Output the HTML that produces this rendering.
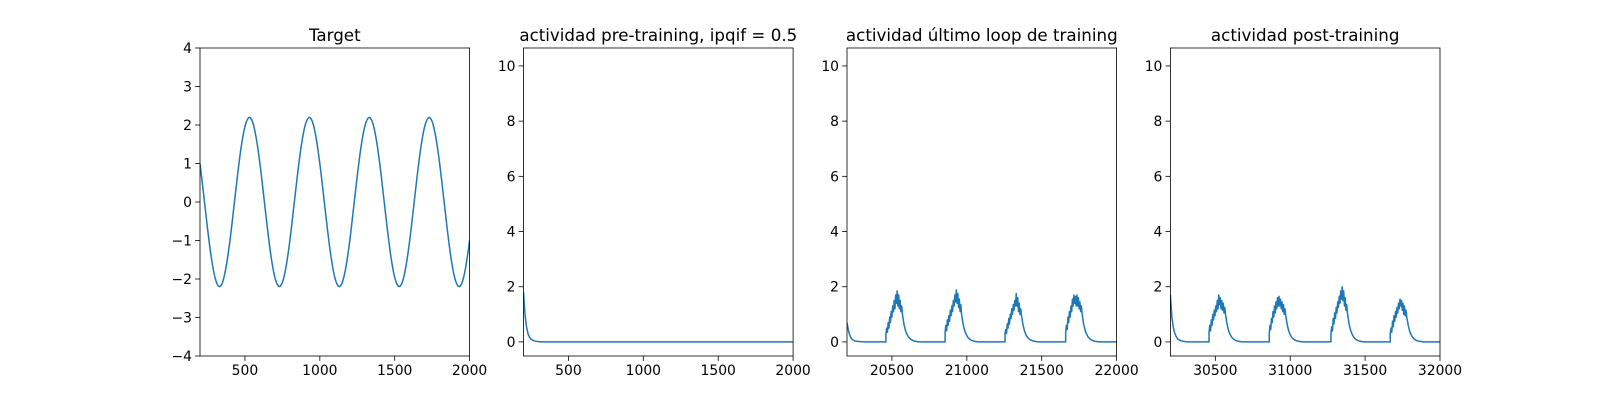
<!DOCTYPE html>
<html><head><meta charset="utf-8"><style>
html,body{margin:0;padding:0;background:#fff;}
svg{display:block;font-family:"DejaVu Sans","Liberation Sans",sans-serif;}
</style></head><body>
<svg id="fig" width="1600" height="400" viewBox="0 0 1600 400" xmlns="http://www.w3.org/2000/svg"></svg>
<script>
// ---- data ----
const targetX0 = 200, targetStep = 25;
const targetValues = [1.00,0.17,-0.68,-1.43,-1.96,-2.19,-2.09,-1.67,-1.00,-0.17,0.68,1.43,1.96,2.19,2.09,1.67,
1.00,0.17,-0.68,-1.43,-1.96,-2.19,-2.09,-1.67,-1.00,-0.17,0.68,1.43,1.96,2.19,2.09,1.67,
1.00,0.17,-0.68,-1.43,-1.96,-2.19,-2.09,-1.67,-1.00,-0.17,0.68,1.43,1.96,2.19,2.09,1.67,
1.00,0.17,-0.68,-1.43,-1.96,-2.19,-2.09,-1.67,-1.00,-0.17,0.68,1.43,1.96,2.19,2.09,1.67,
1.00,0.17,-0.68,-1.43,-1.96,-2.19,-2.09,-1.67,-1.00];
const decayOffsets = [0,10,20,30,40,50,70,100,120];
const preDecay = [1.8,1.0,0.55,0.3,0.17,0.1,0.04,0.01,0];
const lastDecay = [0.7,0.4,0.22,0.12,0.07,0.04,0.02,0.005,0];
const postDecay = [1.7,0.9,0.5,0.3,0.18,0.1,0.04,0.01,0];
const bumpOffsets = [0,0,5,10,15,20,25,30,35,40,45,50,55,60,65,70,75,80,85,90,95,100,105,110,120,130,140,150,160,170,180,190,200,220];
const lastBumpStarts = [20460,20855,21255,21660];
const postBumpStarts = [30458,30860,31272,31668];
const lastBumps = [
 [0,0.3,0.5,0.35,0.7,0.5,0.9,0.7,1.1,0.9,1.3,1.1,1.5,1.2,1.7,1.4,1.85,1.3,1.7,1.2,1.5,1.1,1.3,1.0,0.65,0.42,0.28,0.18,0.12,0.08,0.05,0.03,0.02,0],
 [0,0.35,0.6,0.4,0.8,0.6,0.95,0.75,1.15,0.95,1.3,1.1,1.5,1.3,1.7,1.45,1.88,1.4,1.75,1.25,1.55,1.1,1.35,1.0,0.65,0.42,0.28,0.18,0.12,0.08,0.05,0.03,0.02,0],
 [0,0.3,0.45,0.3,0.65,0.5,0.85,0.65,1.0,0.85,1.2,1.0,1.35,1.15,1.5,1.3,1.75,1.3,1.6,1.1,1.4,1.0,1.2,0.95,0.62,0.4,0.26,0.17,0.11,0.07,0.05,0.03,0.02,0],
 [0,0.35,0.6,0.45,0.9,0.7,1.1,0.9,1.3,1.1,1.55,1.3,1.7,1.4,1.65,1.3,1.7,1.3,1.6,1.2,1.45,1.1,1.3,1.0,0.65,0.42,0.28,0.18,0.12,0.08,0.05,0.03,0.02,0]
];
const postBumps = [
 [0,0.35,0.6,0.4,0.8,0.6,1.0,0.8,1.15,0.95,1.3,1.1,1.5,1.2,1.7,1.35,1.6,1.2,1.5,1.15,1.4,1.05,1.25,1.0,0.65,0.42,0.28,0.18,0.12,0.08,0.05,0.03,0.02,0],
 [0,0.3,0.6,0.45,0.85,0.7,1.1,0.9,1.3,1.05,1.45,1.2,1.6,1.3,1.65,1.3,1.55,1.2,1.45,1.1,1.35,1.0,1.2,0.95,0.62,0.4,0.26,0.17,0.11,0.07,0.05,0.03,0.02,0],
 [0,0.3,0.55,0.4,0.85,0.65,1.05,0.85,1.25,1.05,1.45,1.25,1.65,1.4,1.85,1.55,2.0,1.5,1.85,1.3,1.6,1.15,1.35,1.05,0.68,0.44,0.29,0.19,0.12,0.08,0.05,0.03,0.02,0],
 [0,0.3,0.5,0.35,0.75,0.55,0.95,0.75,1.1,0.9,1.25,1.05,1.4,1.2,1.55,1.3,1.5,1.15,1.4,1.0,1.3,0.95,1.15,0.9,0.6,0.38,0.25,0.16,0.1,0.07,0.04,0.03,0.02,0]
];
const xticks12 = [500,1000,1500,2000];
const xticks3 = [20500,21000,21500,22000];
const xticks4 = [30500,31000,31500,32000];
const yticksT = [-4,-3,-2,-1,0,1,2,3,4];
const yticksA = [0,2,4,6,8,10];
const titles = ["Target","actividad pre-training, ipqif = 0.5","actividad último loop de training","actividad post-training"];

// ---- drawing ----
const NS="http://www.w3.org/2000/svg";
const fig=document.getElementById('fig');
function el(tag,attrs,parent){const e=document.createElementNS(NS,tag);for(const k in attrs)e.setAttribute(k,attrs[k]);(parent||fig).appendChild(e);return e;}
const T=48,B=356;
function fmt(v){return v<0?"\u2212"+Math.abs(v):String(v);}
function buildActivity(x0,x1,decay,starts,bumps){
  const pts=[];
  decayOffsets.forEach((o,i)=>pts.push([x0+o,decay[i]]));
  starts.forEach((s,b)=>{bumpOffsets.forEach((o,i)=>pts.push([s+o,bumps[b][i]]));});
  pts.push([x1,0]);
  return pts;
}
function smoothPath(P){
  let d='M'+P[0][0].toFixed(2)+','+P[0][1].toFixed(2);
  for(let i=0;i<P.length-1;i++){
    const p0=P[i-1]||P[i],p1=P[i],p2=P[i+1],p3=P[i+2]||P[i+1];
    const c1=[p1[0]+(p2[0]-p0[0])/6,p1[1]+(p2[1]-p0[1])/6];
    const c2=[p2[0]-(p3[0]-p1[0])/6,p2[1]-(p3[1]-p1[1])/6];
    d+='C'+c1[0].toFixed(2)+','+c1[1].toFixed(2)+' '+c2[0].toFixed(2)+','+c2[1].toFixed(2)+' '+p2[0].toFixed(2)+','+p2[1].toFixed(2);
  }
  return d;
}
function panel(idx,L,R,xmin,xmax,ymin,ymax,xticks,yticks,pts,smooth){
  const g=el('g',{});
  
  
  const sx=v=>L+(v-xmin)/(xmax-xmin)*(R-L);
  const sy=v=>B-(v-ymin)/(ymax-ymin)*(B-T);
  const cp=el('clipPath',{id:'cp'+idx},g);el('rect',{x:L,y:T,width:R-L,height:B-T},cp);
  const P=pts.map(p=>[sx(p[0]),sy(p[1])]);
  const d=smooth?smoothPath(P):P.map((p,i)=>(i?'L':'M')+p[0].toFixed(2)+','+p[1].toFixed(2)).join('');
  const line=el('path',{d:d,fill:'none',stroke:'#1f77b4','stroke-width':1.5,'stroke-linejoin':'round','clip-path':'url(#cp'+idx+')'},g);
  
  
  xticks.forEach(v=>{const x=sx(v);el('line',{x1:x,x2:x,y1:B,y2:B+4.9,stroke:'#000','stroke-width':0.8},g);
    const t=el('text',{x:x,y:B+19,'text-anchor':'middle','font-size':13.9,fill:'#000'},g);t.textContent=fmt(v);
    });
  yticks.forEach(v=>{const y=sy(v);el('line',{x1:L-4.9,x2:L,y1:y,y2:y,stroke:'#000','stroke-width':0.8},g);
    const t=el('text',{x:L-8,y:y+5,'text-anchor':'end','font-size':13.9,fill:'#000'},g);t.textContent=fmt(v);
    });
  el('rect',{x:L,y:T,width:R-L,height:B-T,fill:'none',stroke:'#000','stroke-width':0.8},g);
  const tt=el('text',{x:(L+R)/2,y:41,'text-anchor':'middle','font-size':16.7,fill:'#000'},g);tt.textContent=titles[idx];
  
}
const lefts=[200,523.5,847,1170.4],W=269.6;
const tpts=targetValues.map((v,i)=>[targetX0+i*targetStep,v]);
panel(0,lefts[0],lefts[0]+W,200,2000,-4,4,xticks12,yticksT,tpts,true);
panel(1,lefts[1],lefts[1]+W,200,2000,-0.51,10.65,xticks12,yticksA,buildActivity(200,2000,preDecay,[],[]),false);
panel(2,lefts[2],lefts[2]+W,20200,22000,-0.51,10.65,xticks3,yticksA,buildActivity(20200,22000,lastDecay,lastBumpStarts,lastBumps),false);
panel(3,lefts[3],lefts[3]+W,30200,32000,-0.51,10.65,xticks4,yticksA,buildActivity(30200,32000,postDecay,postBumpStarts,postBumps),false);
</script>
</body></html>
